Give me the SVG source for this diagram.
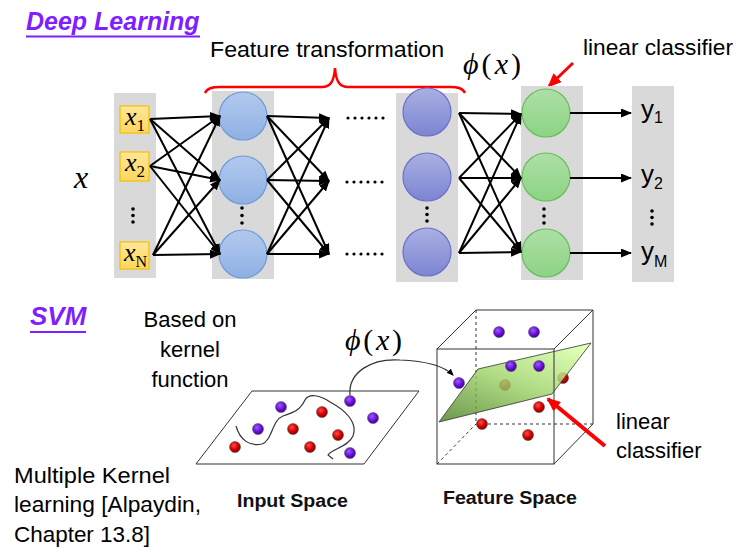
<svg xmlns="http://www.w3.org/2000/svg" width="741" height="552" viewBox="0 0 741 552">
<style>
.sans{font-family:"Liberation Sans",Arial,sans-serif;fill:#000}
.lbl{font-size:22px}
.math{font-family:"Liberation Serif","Times New Roman",serif;fill:#000}
.it{font-style:italic}
.title{font-family:"Liberation Sans",Arial,sans-serif;font-weight:bold;font-style:italic;fill:#7f1fff}
.col{fill:#d9d9d9}
.box{fill:url(#gYel);stroke:#f5c000;stroke-width:1.2}
.blue{fill:url(#gBlue);stroke:#6e9ad8;stroke-width:1.2}
.purp{fill:url(#gPurp);stroke:#6a70c8;stroke-width:1.2}
.green{fill:url(#gGreen);stroke:#66bf5c;stroke-width:1.2}
.arr{stroke:#000;stroke-width:2;fill:none;marker-end:url(#ah)}
.dot{fill:#000}
.pd{fill:url(#gPd);stroke:#444;stroke-width:0.5}
.rd{fill:url(#gRd);stroke:#444;stroke-width:0.5}
.edge{stroke:#333;stroke-width:1;fill:none}
.dash{stroke:#333;stroke-width:1;fill:none;stroke-dasharray:3 3}
.space{font-family:"Liberation Sans",Arial,sans-serif;font-weight:bold;font-size:18px;fill:#111}
</style>
<defs>
<marker id="ah" markerUnits="userSpaceOnUse" markerWidth="11" markerHeight="9" refX="10" refY="4.5" orient="auto">
<path d="M0,0 L11,4.5 L0,9 z" fill="#000"/>
</marker>
<marker id="ahs" markerUnits="userSpaceOnUse" markerWidth="7" markerHeight="6" refX="6" refY="3" orient="auto">
<path d="M0,0 L7,3 L0,6 z" fill="#000"/>
</marker>
<marker id="ahr" markerUnits="userSpaceOnUse" markerWidth="14" markerHeight="12" refX="12" refY="6" orient="auto">
<path d="M0,0 L14,6 L0,12 z" fill="#ff0000"/>
</marker>
<linearGradient id="gYel" x1="0" y1="0" x2="0" y2="1"><stop offset="0" stop-color="#ffe699"/><stop offset="1" stop-color="#ffd75e"/></linearGradient>
<linearGradient id="gBlue" x1="0" y1="0" x2="0" y2="1"><stop offset="0" stop-color="#b2c9ed"/><stop offset="1" stop-color="#8fb0e4"/></linearGradient>
<linearGradient id="gPurp" x1="0" y1="0" x2="0" y2="1"><stop offset="0" stop-color="#a9b0e2"/><stop offset="1" stop-color="#7d84d2"/></linearGradient>
<linearGradient id="gGreen" x1="0" y1="0" x2="0" y2="1"><stop offset="0" stop-color="#ade0a6"/><stop offset="1" stop-color="#8cd384"/></linearGradient>
<radialGradient id="gPd" cx="0.4" cy="0.35" r="0.65"><stop offset="0" stop-color="#9a5cff"/><stop offset="0.6" stop-color="#6a10d8"/><stop offset="1" stop-color="#44009a"/></radialGradient>
<radialGradient id="gRd" cx="0.4" cy="0.35" r="0.65"><stop offset="0" stop-color="#ff4a4a"/><stop offset="0.6" stop-color="#d40000"/><stop offset="1" stop-color="#880000"/></radialGradient>
<linearGradient id="gPlane" x1="0.85" y1="0" x2="0.15" y2="1"><stop offset="0" stop-color="#d8ffa6"/><stop offset="0.5" stop-color="#9fd46a"/><stop offset="1" stop-color="#558a2c"/></linearGradient>
</defs>
<rect width="741" height="552" fill="#fff"/>

<g id="title-deep">
<text class="title" x="26" y="30" font-size="25">Deep Learning</text>
<line x1="26" y1="36.5" x2="200" y2="36.5" stroke="#7f1fff" stroke-width="2"/>
</g>
<g id="title-svm">
<text class="title" x="30" y="325" font-size="26">SVM</text>
<line x1="30" y1="332" x2="86" y2="332" stroke="#7f1fff" stroke-width="2"/>
</g>

<g id="label-feature-transformation">
<text class="sans lbl" x="210" y="57" textLength="234" lengthAdjust="spacingAndGlyphs">Feature transformation</text>
<path d="M205,93 C207,88 212,87 220,87 L322,87 C330,87 334,82 335,68 C336,82 340,87 348,87 L450,87 C458,87 463,88 465,93" fill="none" stroke="#ff0000" stroke-width="2.5"/>
</g>
<g id="label-phi-top">
<text class="math" x="463" y="74" font-size="30" textLength="58"><tspan class="it">ϕ</tspan>(<tspan class="it">x</tspan>)</text>
</g>
<g id="label-linear-classifier-top">
<text class="sans lbl" x="583" y="55" textLength="150" lengthAdjust="spacingAndGlyphs">linear classifier</text>
<line x1="573" y1="63" x2="549" y2="86" stroke="#ff0000" stroke-width="3" marker-end="url(#ahr)"/>
</g>
<g id="label-x">
<text class="math it" x="74" y="188" font-size="32">x</text>
</g>

<g id="col-input">
<rect class="col" x="114" y="93" width="42" height="185"/>
<rect class="box" x="120" y="106" width="29" height="27"/>
<text class="math" x="125" y="125" font-size="26"><tspan class="it">x</tspan><tspan font-size="17" dy="6">1</tspan></text>
<rect class="box" x="120" y="152" width="29" height="29"/>
<text class="math" x="125" y="171" font-size="26"><tspan class="it">x</tspan><tspan font-size="17" dy="6">2</tspan></text>
<circle class="dot" cx="133" cy="209" r="1.8"/><circle class="dot" cx="133" cy="215.5" r="1.8"/><circle class="dot" cx="133" cy="222" r="1.8"/>
<rect class="box" x="120" y="242" width="29" height="27"/>
<text class="math" x="124" y="261" font-size="26"><tspan class="it">x</tspan><tspan font-size="16" dy="6">N</tspan></text>
</g>

<g id="col-hidden1">
<rect class="col" x="212" y="91" width="62" height="188"/>
<circle class="blue" cx="243" cy="116" r="24"/>
<circle class="blue" cx="243" cy="180" r="24"/>
<circle class="dot" cx="242" cy="208" r="1.8"/><circle class="dot" cx="242" cy="215.5" r="1.8"/><circle class="dot" cx="242" cy="223" r="1.8"/>
<circle class="blue" cx="243" cy="254" r="24"/>
</g>

<g id="dots-middle">
<g class="dot">
<circle cx="348" cy="118" r="1.6"/><circle cx="355" cy="118" r="1.6"/><circle cx="362" cy="118" r="1.6"/><circle cx="369" cy="118" r="1.6"/><circle cx="376" cy="118" r="1.6"/><circle cx="383" cy="118" r="1.6"/>
<circle cx="347" cy="182" r="1.6"/><circle cx="354" cy="182" r="1.6"/><circle cx="361" cy="182" r="1.6"/><circle cx="368" cy="182" r="1.6"/><circle cx="375" cy="182" r="1.6"/><circle cx="382" cy="182" r="1.6"/>
<circle cx="347" cy="254" r="1.6"/><circle cx="354" cy="254" r="1.6"/><circle cx="361" cy="254" r="1.6"/><circle cx="368" cy="254" r="1.6"/><circle cx="375" cy="254" r="1.6"/><circle cx="382" cy="254" r="1.6"/>
</g>
</g>

<g id="col-hidden-last">
<rect class="col" x="396" y="93" width="62" height="189"/>
<circle class="purp" cx="427" cy="112" r="24"/>
<circle class="purp" cx="427" cy="177" r="24"/>
<circle class="dot" cx="427" cy="208" r="1.8"/><circle class="dot" cx="427" cy="214.5" r="1.8"/><circle class="dot" cx="427" cy="221" r="1.8"/>
<circle class="purp" cx="427" cy="252" r="24"/>
</g>

<g id="col-green">
<rect class="col" x="521" y="86" width="62" height="194"/>
<circle class="green" cx="546" cy="113" r="24"/>
<circle class="green" cx="546" cy="177" r="24"/>
<circle class="dot" cx="544" cy="209" r="1.8"/><circle class="dot" cx="544" cy="216" r="1.8"/><circle class="dot" cx="544" cy="223" r="1.8"/>
<circle class="green" cx="546" cy="253" r="24"/>
</g>

<g id="col-output">
<rect class="col" x="632" y="86" width="42" height="196"/>
<text class="sans" x="641" y="118" font-size="26">y<tspan font-size="16" dy="5">1</tspan></text>
<text class="sans" x="641" y="183" font-size="26">y<tspan font-size="16" dy="6">2</tspan></text>
<circle class="dot" cx="652" cy="211" r="1.8"/><circle class="dot" cx="652" cy="217.5" r="1.8"/><circle class="dot" cx="652" cy="224" r="1.8"/>
<text class="sans" x="641" y="260" font-size="26">y<tspan font-size="16" dy="7">M</tspan></text>
</g>

<g id="connectors">
<line class="arr" x1="150" y1="119" x2="220" y2="116"/>
<line class="arr" x1="150" y1="119" x2="220" y2="180"/>
<line class="arr" x1="150" y1="119" x2="220" y2="254"/>
<line class="arr" x1="150" y1="166" x2="220" y2="116"/>
<line class="arr" x1="150" y1="166" x2="220" y2="180"/>
<line class="arr" x1="150" y1="166" x2="220" y2="254"/>
<line class="arr" x1="153" y1="255" x2="220" y2="116"/>
<line class="arr" x1="153" y1="255" x2="220" y2="180"/>
<line class="arr" x1="153" y1="255" x2="220" y2="254"/>

<line class="arr" x1="267" y1="116" x2="329" y2="118"/>
<line class="arr" x1="267" y1="116" x2="329" y2="181"/>
<line class="arr" x1="267" y1="116" x2="329" y2="254"/>
<line class="arr" x1="267" y1="180" x2="329" y2="118"/>
<line class="arr" x1="267" y1="180" x2="329" y2="181"/>
<line class="arr" x1="267" y1="180" x2="329" y2="254"/>
<line class="arr" x1="267" y1="254" x2="329" y2="118"/>
<line class="arr" x1="267" y1="254" x2="329" y2="181"/>
<line class="arr" x1="267" y1="254" x2="329" y2="254"/>

<line class="arr" x1="459" y1="113" x2="521" y2="114"/>
<line class="arr" x1="459" y1="113" x2="521" y2="178"/>
<line class="arr" x1="459" y1="113" x2="521" y2="252"/>
<line class="arr" x1="459" y1="178" x2="521" y2="114"/>
<line class="arr" x1="459" y1="178" x2="521" y2="178"/>
<line class="arr" x1="459" y1="178" x2="521" y2="252"/>
<line class="arr" x1="459" y1="253" x2="521" y2="114"/>
<line class="arr" x1="459" y1="253" x2="521" y2="178"/>
<line class="arr" x1="459" y1="253" x2="521" y2="252"/>

<line class="arr" x1="570" y1="113" x2="631" y2="113"/>
<line class="arr" x1="570" y1="178" x2="631" y2="178"/>
<line class="arr" x1="570" y1="253" x2="631" y2="253"/>

<path d="M350,395 C348,372 372,358 400,360 C425,361 443,365 453,375" fill="none" stroke="#333" stroke-width="1.2" marker-end="url(#ahs)"/>
</g>

<g id="label-based-on-kernel">
<text class="sans lbl" x="190" y="327" text-anchor="middle">Based on</text>
<text class="sans lbl" x="190" y="357" text-anchor="middle">kernel</text>
<text class="sans lbl" x="190" y="387" text-anchor="middle">function</text>
</g>
<g id="label-mkl">
<text class="sans lbl" x="14" y="483" textLength="156" lengthAdjust="spacingAndGlyphs">Multiple Kernel</text>
<text class="sans lbl" x="14" y="512" textLength="187" lengthAdjust="spacingAndGlyphs">learning [Alpaydin,</text>
<text class="sans lbl" x="14" y="542" textLength="136" lengthAdjust="spacingAndGlyphs">Chapter 13.8]</text>
</g>
<g id="label-phi-bottom">
<text class="math" x="345" y="350" font-size="30" textLength="57"><tspan class="it">ϕ</tspan>(<tspan class="it">x</tspan>)</text>
</g>

<g id="input-space">
<polygon points="252,391 419,391 364,464 196,464" fill="none" stroke="#333" stroke-width="1"/>
<path d="M236,426 C240,440 250,447 262,444 C272,441 272,420 283,416 C295,412 300,410 305,400 C309,393 320,395 330,402 C345,410 358,422 353,436 C348,447 332,449 328,455 L333,459" fill="none" stroke="#333" stroke-width="1.2"/>
<circle class="pd" cx="281" cy="407" r="5.5"/>
<circle class="pd" cx="258" cy="429" r="5.5"/>
<circle class="pd" cx="350" cy="401" r="5.5"/>
<circle class="pd" cx="373" cy="418" r="5.5"/>
<circle class="pd" cx="350" cy="453" r="5.5"/>
<circle class="rd" cx="322" cy="412" r="5.5"/>
<circle class="rd" cx="293" cy="429" r="5.5"/>
<circle class="rd" cx="338" cy="435" r="5.5"/>
<circle class="rd" cx="235" cy="447" r="5.5"/>
<circle class="rd" cx="310" cy="447" r="5.5"/>
<text class="space" x="237" y="507" textLength="111" lengthAdjust="spacingAndGlyphs">Input Space</text>
</g>

<g id="feature-space">
<line class="dash" x1="476" y1="310" x2="476" y2="424"/>
<line class="dash" x1="476" y1="424" x2="593" y2="424"/>
<line class="dash" x1="437" y1="464" x2="476" y2="424"/>
<line class="edge" x1="476" y1="310" x2="593" y2="310"/>
<line class="edge" x1="593" y1="310" x2="593" y2="424"/>
<line class="edge" x1="437" y1="349" x2="476" y2="310"/>
<line class="edge" x1="554" y1="349" x2="593" y2="310"/>
<line class="edge" x1="554" y1="464" x2="593" y2="424"/>
<circle class="pd" cx="499" cy="332" r="5.5"/>
<circle class="pd" cx="534" cy="332" r="5.5"/>
<circle class="rd" cx="563" cy="378" r="5.5"/>
<circle class="rd" cx="505" cy="385" r="5.5"/>
<polygon points="439,422 478,369 591,343 552,394" fill="url(#gPlane)" fill-opacity="0.82" stroke="#333" stroke-width="0.8"/>
<rect class="edge" x="437" y="349" width="117" height="115"/>
<circle class="pd" cx="511" cy="366" r="5.5"/>
<circle class="pd" cx="539" cy="366" r="5.5"/>
<circle class="pd" cx="459" cy="383" r="5.5"/>
<circle class="rd" cx="539" cy="407" r="5.5"/>
<circle class="rd" cx="482" cy="424" r="5.5"/>
<circle class="rd" cx="528" cy="435" r="5.5"/>
<text class="space" x="443" y="504" textLength="134" lengthAdjust="spacingAndGlyphs">Feature Space</text>
</g>

<g id="label-linear-classifier-bottom">
<text class="sans lbl" x="616" y="429">linear</text>
<text class="sans lbl" x="616" y="458">classifier</text>
<line x1="605" y1="446" x2="548" y2="399" stroke="#ff0000" stroke-width="4" marker-end="url(#ahr)"/>
</g>
</svg>
